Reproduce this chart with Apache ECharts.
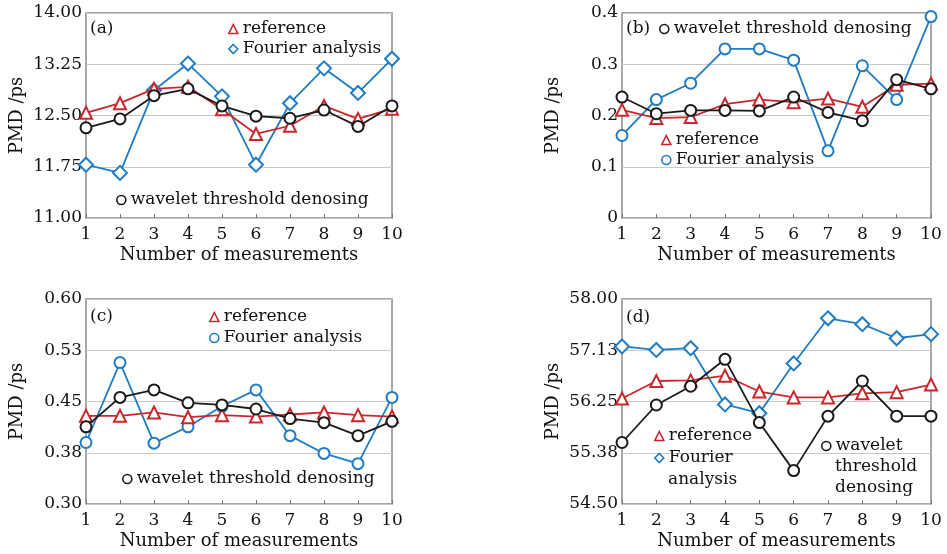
<!DOCTYPE html>
<html>
<head>
<meta charset="utf-8">
<script src="https://cdn.jsdelivr.net/npm/echarts@6/dist/echarts.min.js"></script>
<style>
  html, body { margin: 0; padding: 0; background: #fff; }
  #chart { width: 947px; height: 554px; }
</style>
</head>
<body>
<div id="chart"></div>
<script>
// measurement index 1..10
const categories = ['1', '2', '3', '4', '5', '6', '7', '8', '9', '10'];

// (a)
const refA = [12.54, 12.68, 12.89, 12.92, 12.59, 12.23, 12.35, 12.64, 12.45, 12.60];
const fourierA = [11.78, 11.66, 12.87, 13.26, 12.78, 11.78, 12.68, 13.19, 12.83, 13.33];
const waveletA = [12.32, 12.45, 12.79, 12.89, 12.64, 12.49, 12.46, 12.58, 12.34, 12.64];
// (b)
const refB = [0.211, 0.195, 0.197, 0.222, 0.231, 0.226, 0.233, 0.217, 0.260, 0.262];
const fourierB = [0.161, 0.231, 0.263, 0.330, 0.330, 0.308, 0.131, 0.297, 0.231, 0.393];
const waveletB = [0.236, 0.2035, 0.210, 0.210, 0.209, 0.236, 0.206, 0.190, 0.270, 0.252];
// (c)
const refC = [0.429, 0.429, 0.434, 0.427, 0.430, 0.428, 0.431, 0.434, 0.430, 0.428];
const fourierC = [0.390, 0.507, 0.389, 0.413, 0.443, 0.467, 0.400, 0.374, 0.359, 0.456];
const waveletC = [0.413, 0.456, 0.467, 0.448, 0.445, 0.439, 0.425, 0.419, 0.400, 0.421];
// (d)
const refD = [56.30, 56.60, 56.61, 56.69, 56.42, 56.32, 56.32, 56.39, 56.41, 56.54];
const fourierD = [57.19, 57.13, 57.16, 56.20, 56.05, 56.90, 57.67, 57.57, 57.33, 57.40];
const waveletD = [55.55, 56.19, 56.51, 56.97, 55.89, 55.07, 56.00, 56.60, 56.00, 56.00];

const RED = '#c8282d';
const BLUE = '#1f7cc4';
const BLACK = '#1a1a1a';
const FONT = 'DejaVu Serif';

const chart = echarts.init(document.getElementById('chart'));

// plot boxes
const grids = [
  { left: 86, top: 13, width: 306, height: 205 },
  { left: 622, top: 13, width: 309, height: 205 },
  { left: 86, top: 299, width: 306, height: 205 },
  { left: 622, top: 299, width: 309, height: 205 }
];

const yRanges = [
  { min: 11, max: 14, interval: 0.75, digits: 2 },
  { min: 0, max: 0.4, interval: 0.1, digits: -1 },
  { min: 0.3, max: 0.6, interval: 0.075, digits: 2 },
  { min: 54.5, max: 58, interval: 0.875, digits: 2 }
];

function fmt(digits) {
  return function (v) {
    if (digits < 0) return String(Math.round(v * 1000) / 1000);
    return (Math.round(v * 1000) / 1000 + 1e-9).toFixed(digits);
  };
}

const xAxes = grids.map((g, i) => ({
  gridIndex: i,
  type: 'category',
  data: categories,
  boundaryGap: false,
  name: 'Number of measurements',
  nameLocation: 'middle',
  nameGap: 28,
  nameTextStyle: { fontFamily: FONT, fontSize: 18, color: '#111' },
  axisLine: { show: false },
  axisTick: { show: true, inside: true, length: 4, lineStyle: { color: '#777' } },
  axisLabel: { fontFamily: FONT, fontSize: 17, color: '#111', margin: 8, interval: 0 },
  splitLine: { show: false }
}));

const yAxes = yRanges.map((r, i) => ({
  gridIndex: i,
  type: 'value',
  min: r.min,
  max: r.max,
  interval: r.interval,
  name: 'PMD /ps',
  nameLocation: 'middle',
  nameGap: 60,
  nameTextStyle: { fontFamily: FONT, fontSize: 18, color: '#111' },
  axisLine: { show: false },
  axisTick: { show: false },
  axisLabel: { fontFamily: FONT, fontSize: 17, color: '#111', margin: 4, formatter: fmt(r.digits) },
  splitLine: { show: true, lineStyle: { color: '#c8c8c8', width: 1.2 } }
}));

function line(name, data, idx, color, symbol, size) {
  return {
    name: name,
    type: 'line',
    xAxisIndex: idx,
    yAxisIndex: idx,
    data: data,
    symbol: symbol,
    symbolSize: size,
    showSymbol: true,
    lineStyle: { color: color, width: 1.8 },
    itemStyle: { color: '#fff', borderColor: color, borderWidth: 2 },
    emphasis: { disabled: true },
    animation: false,
    z: name === 'reference' ? 3 : (name === 'Fourier analysis' ? 2 : 4)
  };
}

const series = [
  line('Fourier analysis', fourierA, 0, BLUE, 'diamond', 14),
  line('reference', refA, 0, RED, 'triangle', 12),
  line('wavelet threshold denosing', waveletA, 0, BLACK, 'circle', 11),
  line('Fourier analysis', fourierB, 1, BLUE, 'circle', 11),
  line('reference', refB, 1, RED, 'triangle', 12),
  line('wavelet threshold denosing', waveletB, 1, BLACK, 'circle', 11),
  line('Fourier analysis', fourierC, 2, BLUE, 'circle', 11),
  line('reference', refC, 2, RED, 'triangle', 12),
  line('wavelet threshold denosing', waveletC, 2, BLACK, 'circle', 11),
  line('Fourier analysis', fourierD, 3, BLUE, 'diamond', 14),
  line('reference', refD, 3, RED, 'triangle', 12),
  line('wavelet threshold denosing', waveletD, 3, BLACK, 'circle', 11)
];

const iconStyle = {
  'reference': { icon: 'triangle', color: RED },
  'Fourier analysis': { icon: 'diamond', color: BLUE },
  'wavelet threshold denosing': { icon: 'circle', color: BLACK }
};

// one legend box per group of entries
function legend(names, left, top, opts) {
  opts = opts || {};
  return {
    left: left,
    top: top,
    orient: 'vertical',
    selectedMode: false,
    itemWidth: 9,
    itemHeight: 9,
    itemGap: opts.gap != null ? opts.gap : 0,
    padding: 0,
    lineStyle: { opacity: 0 },
    formatter: opts.formatter,
    textStyle: { fontFamily: FONT, fontSize: 17, color: '#111', lineHeight: 20 },
    data: names.map(n => ({
      name: n,
      icon: (opts.icons && opts.icons[n]) || iconStyle[n].icon,
      itemStyle: { color: '#fff', borderColor: iconStyle[n].color, borderWidth: 1.6 }
    }))
  };
}

const legends = [
  legend(['reference', 'Fourier analysis'], 228, 19),
  legend(['wavelet threshold denosing'], 116, 190),
  legend(['wavelet threshold denosing'], 659, 19),
  legend(['reference', 'Fourier analysis'], 661, 130, { icons: { 'Fourier analysis': 'circle' } }),
  legend(['reference', 'Fourier analysis'], 209, 307, { gap: 1, icons: { 'Fourier analysis': 'circle' } }),
  legend(['wavelet threshold denosing'], 122, 469),
  legend(['reference', 'Fourier analysis'], 654, 426, { gap: 2, formatter: n => n.split(' ')[0] }),
  legend(['wavelet threshold denosing'], 821, 436, { formatter: n => n.split(' ')[0] })
];

// panel labels and the wrapped remainder of legend entries in (d)
const labels = [
  ['(a)', 90, 19, 20], ['(b)', 626, 19, 20], ['(c)', 90, 307, 20], ['(d)', 626, 308, 20],
  ['analysis', 668, 470, 20], ['threshold\ndenosing', 835, 456, 21]
];

chart.setOption({
  animation: false,
  grid: grids.map(g => Object.assign({ show: true, borderColor: '#8a8a8a', borderWidth: 1.5, backgroundColor: 'transparent' }, g)),
  xAxis: xAxes,
  yAxis: yAxes,
  legend: legends,
  title: labels.map(l => ({
    text: l[0], left: l[1], top: l[2], padding: 0,
    textStyle: { fontFamily: FONT, fontSize: 17, fontWeight: 'normal', color: '#111', lineHeight: l[3] }
  })),
  series: series
});
</script>
</body>
</html>
